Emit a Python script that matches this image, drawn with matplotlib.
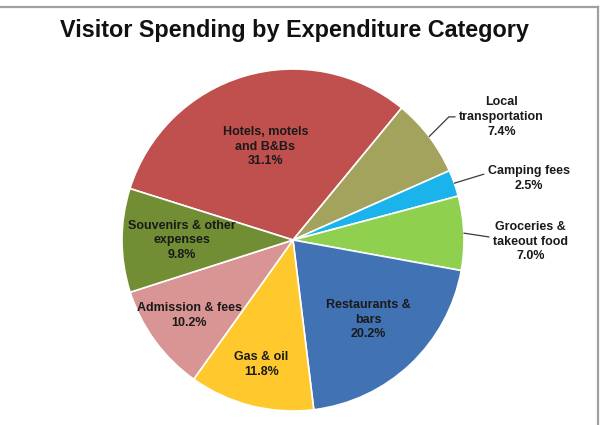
import numpy as np
import matplotlib
matplotlib.use('Agg')
import matplotlib.pyplot as plt
from matplotlib.lines import Line2D

plt.rcParams['font.family'] = ['Liberation Sans', 'DejaVu Sans']

categories = ['Hotels, motels\nand B&Bs', 'Local\ntransportation', 'Camping fees',
              'Groceries &\ntakeout food', 'Restaurants &\nbars', 'Gas & oil',
              'Admission & fees', 'Souvenirs & other\nexpenses']
shares = [31.1, 7.4, 2.5, 7.0, 20.2, 11.8, 10.2, 9.8]
colors = ['#C0504D', '#A3A35E', '#1AB3EC', '#90D04F', '#4172B4', '#FFC92E',
          '#D99593', '#718E35']

# labels inside the pie: slice index -> radius fraction
inside = {0: 0.57, 4: 0.64, 5: 0.75, 6: 0.75, 7: 0.65}
# labels outside: slice index -> (text x, text y, relpos y, connector angle)
outside = {1: (1.22, 0.72, 0.5, 45), 2: (1.38, 0.36, 0.75, 17),
           3: (1.39, -0.01, 0.6, None)}

W, H = 602, 425
fig = plt.figure(figsize=(W / 100, H / 100), dpi=100)
cx, cy, r = 293, 240, 171
ax = fig.add_axes([(cx - r) / W, (H - cy - r) / H, 2 * r / W, 2 * r / H])

start = 162.5
wedges, _ = ax.pie(shares, colors=colors, startangle=start, counterclock=False,
                   radius=1, wedgeprops=dict(edgecolor='white', linewidth=1.2))
ax.set_xlim(-1, 1)
ax.set_ylim(-1, 1)
ax.set_aspect('equal')

font = dict(fontsize=9, fontweight='bold', color='#1a1a1a', linespacing=1.3)

for i, w in enumerate(wedges):
    mid = np.deg2rad((w.theta1 + w.theta2) / 2)
    text = f'{categories[i]}\n{shares[i]:.1f}%'
    if i in inside:
        f = inside[i]
        ax.text(f * np.cos(mid), f * np.sin(mid), text, ha='center', va='center',
                **font)
    else:
        tx, ty, ry, ang = outside[i]
        if ang is None:
            cs = 'arc3,rad=0'
        else:
            cs = f'angle,angleA=0,angleB={ang},rad=0'
        ax.annotate(text, xy=(np.cos(mid), np.sin(mid)), xytext=(tx, ty),
                    ha='center', va='center', annotation_clip=False, **font,
                    arrowprops=dict(arrowstyle='-', color='#3a3a3a', lw=0.9,
                                    connectionstyle=cs, relpos=(0, ry),
                                    shrinkA=1, shrinkB=0))

fig.text(294 / W, 1 - 31 / H, 'Visitor Spending by Expenditure Category',
         ha='center', va='center', fontsize=16.8, fontweight='bold', color='#111111')

# frame lines along the top and right edge
fig.add_artist(Line2D([0, 598 / W], [1 - 7 / H, 1 - 7 / H], color='#a0a0a0', lw=1.6,
                      transform=fig.transFigure))
fig.add_artist(Line2D([598 / W, 598 / W], [0, 1 - 7 / H], color='#a0a0a0', lw=1.6,
                      transform=fig.transFigure))

fig.savefig('out.png', dpi=100, facecolor='white')
